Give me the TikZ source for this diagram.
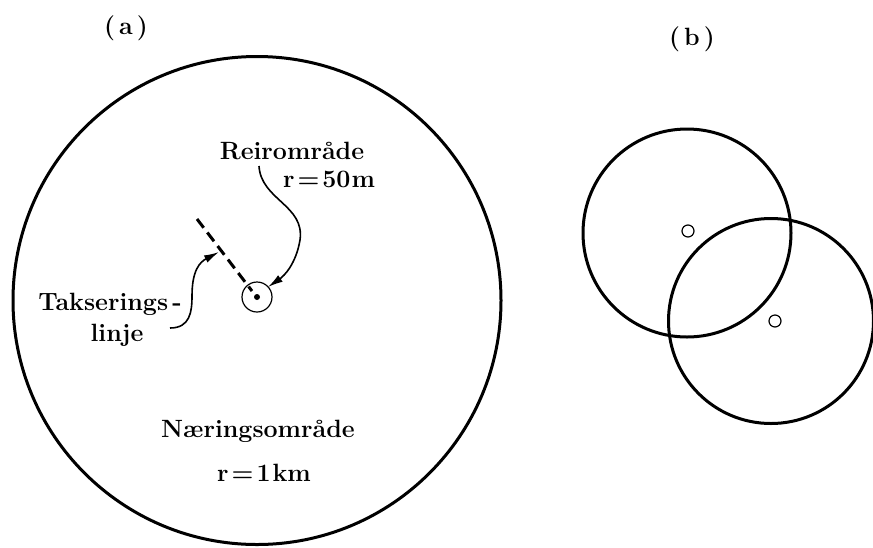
\documentclass[tikz,border=0pt]{standalone}
\usepackage{fontspec}
\usetikzlibrary{arrows.meta}
\begin{document}
\begin{tikzpicture}[x=1pt,y=-1pt,
  lbl/.style={font=\fontsize{25}{30}\selectfont\bfseries\addfontfeatures{LetterSpace=5}, inner sep=0pt, anchor=base},
  ring/.style={draw, line width=3pt},
  pointer/.style={draw, line width=1.6pt, -{Latex[length=15pt,width=8pt]}},
  tdash/.style={draw, line width=3pt, dash pattern=on 11pt off 6pt}]
\useasboundingbox (0,0) rectangle (873,547);
% (a)
\node[lbl] (la) at (126,34) {(\,a\,)};
\node[ring, circle, minimum size=488pt, inner sep=0pt] (big) at (257,300.5) {};
\node[draw, circle, line width=1.2pt, minimum size=30pt, inner sep=0pt] (nest) at (257,297) {};
\node[fill, circle, minimum size=6pt, inner sep=0pt] (dot) at (257,297) {};
\coordinate (d1) at (197,219);
\coordinate (d2) at (252,291);
\draw[tdash] (d1) -- (d2);
\node[lbl] (rei) at (292,159) {Reirområde};
\node[lbl] (r50) at (329,187) {r\kern3pt=\kern3pt50\kern1pt m};
\node[lbl] (tak) at (110,310) {Takserings\,-};
\node[lbl] (lin) at (117,341) {linje};
\node[lbl] (naer) at (258,437) {Næringsområde};
\node[lbl] (r1) at (264,481) {r\kern3pt=\kern3pt1\kern2pt km};
\coordinate (p1) at (259,166);
\coordinate (p2) at (300,240);
\coordinate (p3) at (268,287);
\draw[pointer] (p1) .. controls (261,200) and (305,205) .. (p2) .. controls (296,264) and (284,276) .. (p3);
\coordinate (q1) at (170,328);
\coordinate (q2) at (192,296);
\coordinate (q3) at (219,252);
\draw[pointer] (q1) .. controls (190,328) and (192,312) .. (q2) .. controls (192,270) and (200,262) .. (q3);
% (b)
\node[lbl] (lb) at (692,45) {(\,b\,)};
\node[ring, circle, minimum size=208pt, inner sep=0pt] (c1) at (687,233) {};
\node[ring, circle, minimum size=205pt, inner sep=0pt] (c2) at (771,321) {};
\node[draw, circle, line width=1.2pt, minimum size=12pt, inner sep=0pt] (n1) at (688,231) {};
\node[draw, circle, line width=1.2pt, minimum size=12pt, inner sep=0pt] (n2) at (775,321) {};
\end{tikzpicture}
\end{document}
